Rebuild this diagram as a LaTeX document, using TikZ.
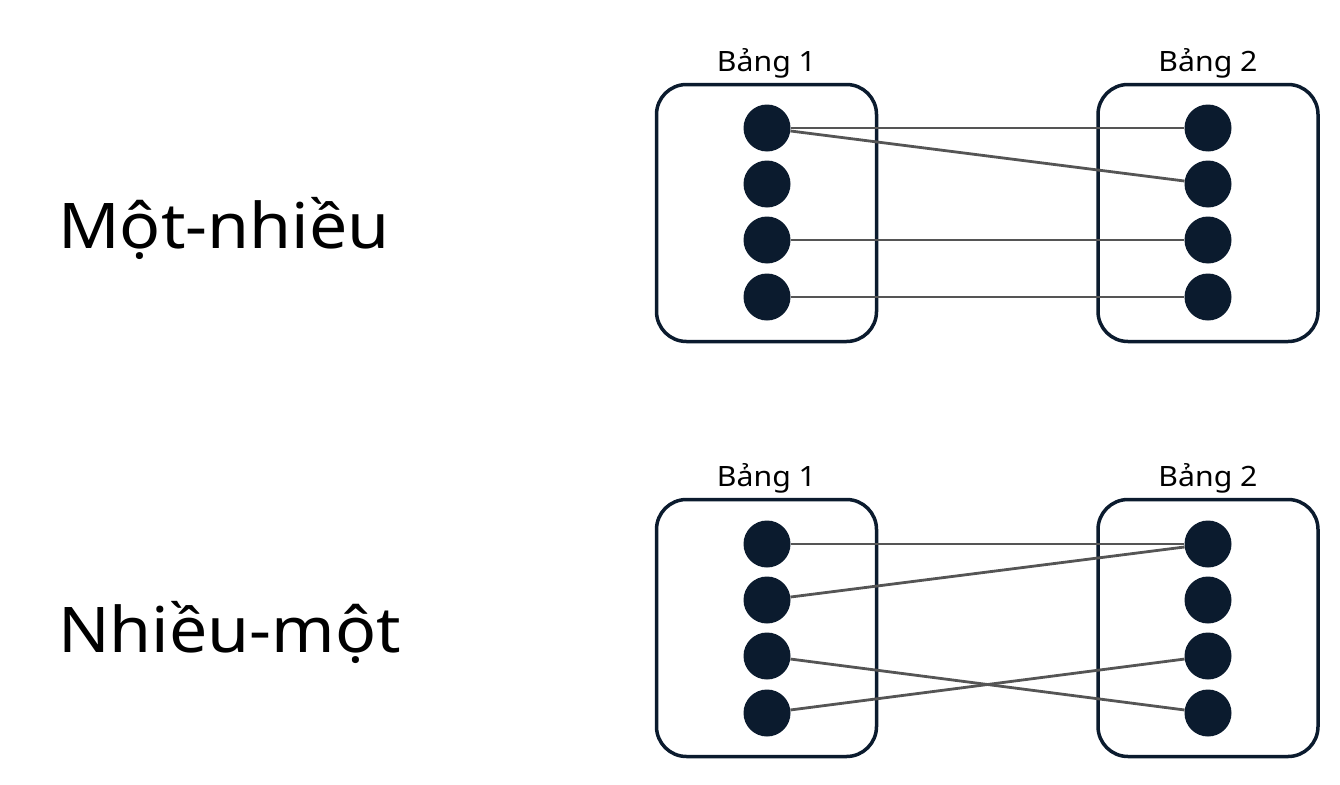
\documentclass[tikz,border=0pt]{standalone}
\usepackage{fontspec}
\setmainfont[FakeStretch=1.08]{Noto Sans}
\usetikzlibrary{positioning}
\definecolor{navy}{HTML}{0B1B2E}
\definecolor{linkgray}{HTML}{555555}

\begin{document}
\begin{tikzpicture}[x=1pt, y=-1pt,
 table/.style={draw=navy, line width=3.5pt, rounded corners=30pt,
   minimum width=220pt, minimum height=257pt, inner sep=0pt},
 entity/.style={circle, fill=navy, draw=none, minimum size=47pt, inner sep=0pt},
 link/.style={draw=linkgray, line width=2.8pt},
 tabname/.style={font=\fontsize{28}{32}\selectfont, inner sep=0pt},
 kind/.style={font=\fontsize{63}{70}\selectfont, anchor=base west, inner sep=0pt}]
 \useasboundingbox (0,0) rectangle (1340,784);

 % Mot-nhieu
 \node[kind] (onemany) at (58,248) {Một-nhiều};
 \node[table] (T1) at (766.5,213) {};
 \node[table] (T2) at (1208,213) {};
 \node[tabname, above=4pt of T1] (T1name) {Bảng 1};
 \node[tabname, above=4pt of T2] (T2name) {Bảng 2};
 \foreach \i/\y in {1/128,2/184,3/240,4/297} {
   \node[entity] (a\i) at (767,\y) {};
   \node[entity] (b\i) at (1208,\y) {};
 }
 \draw[link] (a1) -- (b1);
 \draw[link] (a1) -- (b2);
 \draw[link] (a3) -- (b3);
 \draw[link] (a4) -- (b4);

 % Nhieu-mot
 \node[kind] (manyone) at (58,652) {Nhiều-một};
 \node[table] (T3) at (766.5,628) {};
 \node[table] (T4) at (1208,628) {};
 \node[tabname, above=4pt of T3] (T3name) {Bảng 1};
 \node[tabname, above=4pt of T4] (T4name) {Bảng 2};
 \foreach \i/\y in {1/544,2/600,3/656,4/713} {
   \node[entity] (c\i) at (767,\y) {};
   \node[entity] (d\i) at (1208,\y) {};
 }
 \draw[link] (c1) -- (d1);
 \draw[link] (c2) -- (d1);
 \draw[link] (c3) -- (d4);
 \draw[link] (c4) -- (d3);
\end{tikzpicture}
\end{document}
